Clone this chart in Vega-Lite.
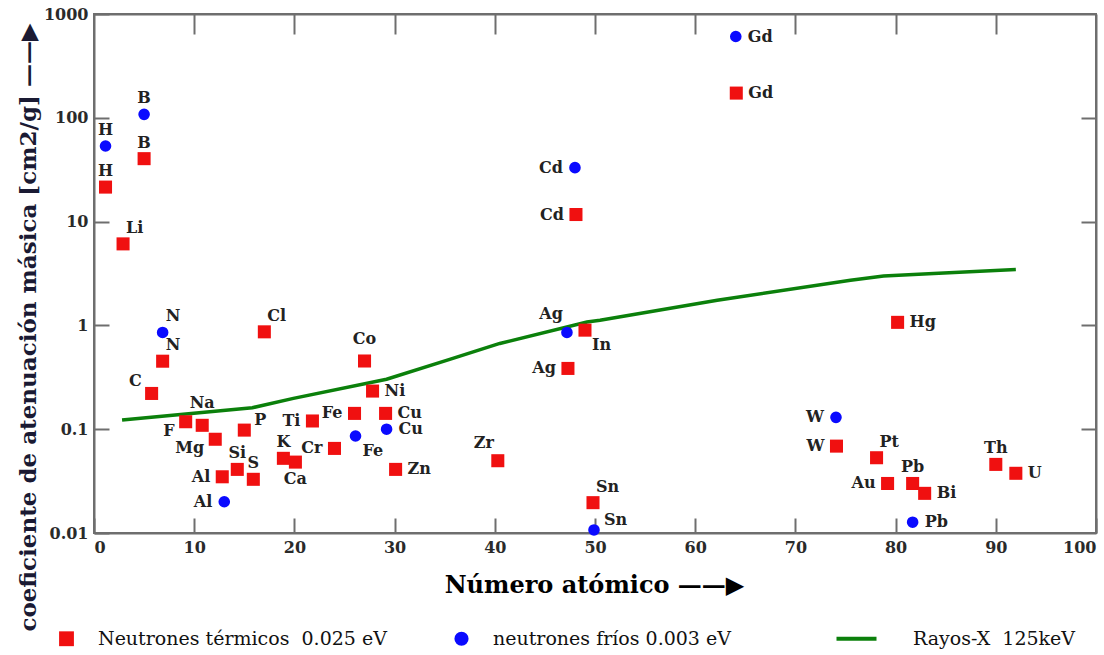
{
  "$schema": "https://vega.github.io/schema/vega-lite/v6.json",
  "width": 1002,
  "height": 519,
  "autosize": {"type": "none"},
  "padding": {"left": 94, "top": 14, "right": 8, "bottom": 122},
  "background": "white",
  "config": {
    "view": {"stroke": "#6e6e6e", "strokeWidth": 2},
    "axis": {"grid": false, "domainColor": "#6e6e6e", "domainWidth": 2, "tickColor": "#6e6e6e", "tickWidth": 2,
      "labelFont": "DejaVu Serif", "labelFontWeight": "bold", "labelFontSize": 16, "labelColor": "#2a2a2a"}
  },
  "datasets": {
    "pts": [
      {"Z": 1.15, "mu": 21.5, "el": "H", "serie": "termicos"},
      {"Z": 2.9, "mu": 6.1, "el": "Li", "serie": "termicos"},
      {"Z": 5, "mu": 40.4, "el": "B", "serie": "termicos"},
      {"Z": 5.75, "mu": 0.221, "el": "C", "serie": "termicos"},
      {"Z": 6.85, "mu": 0.452, "el": "N", "serie": "termicos"},
      {"Z": 9.15, "mu": 0.118, "el": "F", "serie": "termicos"},
      {"Z": 10.8, "mu": 0.109, "el": "Na", "serie": "termicos"},
      {"Z": 12.1, "mu": 0.08, "el": "Mg", "serie": "termicos"},
      {"Z": 12.8, "mu": 0.0348, "el": "Al", "serie": "termicos"},
      {"Z": 14.3, "mu": 0.041, "el": "Si", "serie": "termicos"},
      {"Z": 15, "mu": 0.098, "el": "P", "serie": "termicos"},
      {"Z": 15.9, "mu": 0.0329, "el": "S", "serie": "termicos"},
      {"Z": 17, "mu": 0.867, "el": "Cl", "serie": "termicos"},
      {"Z": 18.9, "mu": 0.0524, "el": "K", "serie": "termicos"},
      {"Z": 20.1, "mu": 0.0482, "el": "Ca", "serie": "termicos"},
      {"Z": 21.8, "mu": 0.12, "el": "Ti", "serie": "termicos"},
      {"Z": 24, "mu": 0.0653, "el": "Cr", "serie": "termicos"},
      {"Z": 26, "mu": 0.142, "el": "Fe", "serie": "termicos"},
      {"Z": 27, "mu": 0.454, "el": "Co", "serie": "termicos"},
      {"Z": 27.8, "mu": 0.233, "el": "Ni", "serie": "termicos"},
      {"Z": 29.1, "mu": 0.142, "el": "Cu", "serie": "termicos"},
      {"Z": 30.1, "mu": 0.041, "el": "Zn", "serie": "termicos"},
      {"Z": 40.3, "mu": 0.0497, "el": "Zr", "serie": "termicos"},
      {"Z": 47.3, "mu": 0.385, "el": "Ag", "serie": "termicos"},
      {"Z": 48.1, "mu": 11.7, "el": "Cd", "serie": "termicos"},
      {"Z": 49, "mu": 0.9, "el": "In", "serie": "termicos"},
      {"Z": 49.8, "mu": 0.0196, "el": "Sn", "serie": "termicos"},
      {"Z": 64.1, "mu": 173, "el": "Gd", "serie": "termicos"},
      {"Z": 74.1, "mu": 0.0687, "el": "W", "serie": "termicos"},
      {"Z": 78.1, "mu": 0.0531, "el": "Pt", "serie": "termicos"},
      {"Z": 79.2, "mu": 0.03, "el": "Au", "serie": "termicos"},
      {"Z": 80.2, "mu": 1.07, "el": "Hg", "serie": "termicos"},
      {"Z": 81.7, "mu": 0.03, "el": "Pb", "serie": "termicos"},
      {"Z": 82.9, "mu": 0.0241, "el": "Bi", "serie": "termicos"},
      {"Z": 90, "mu": 0.0458, "el": "Th", "serie": "termicos"},
      {"Z": 92, "mu": 0.0376, "el": "U", "serie": "termicos"},
      {"Z": 1.15, "mu": 53.5, "el": "H", "serie": "frios"},
      {"Z": 5, "mu": 108, "el": "B", "serie": "frios"},
      {"Z": 6.85, "mu": 0.855, "el": "N", "serie": "frios"},
      {"Z": 13, "mu": 0.02, "el": "Al", "serie": "frios"},
      {"Z": 26.1, "mu": 0.086, "el": "Fe", "serie": "frios"},
      {"Z": 29.2, "mu": 0.1, "el": "Cu", "serie": "frios"},
      {"Z": 47.2, "mu": 0.855, "el": "Ag", "serie": "frios"},
      {"Z": 48, "mu": 33.1, "el": "Cd", "serie": "frios"},
      {"Z": 49.9, "mu": 0.0107, "el": "Sn", "serie": "frios"},
      {"Z": 64.05, "mu": 607, "el": "Gd", "serie": "frios"},
      {"Z": 74.05, "mu": 0.13, "el": "W", "serie": "frios"},
      {"Z": 81.7, "mu": 0.0127, "el": "Pb", "serie": "frios"}
    ],
    "xray": [
      {"Z": 2.8, "mu": 0.1225, "serie": "rayos"},
      {"Z": 15.8, "mu": 0.161, "serie": "rayos"},
      {"Z": 19.9, "mu": 0.198, "serie": "rayos"},
      {"Z": 29.2, "mu": 0.303, "serie": "rayos"},
      {"Z": 35.5, "mu": 0.47, "serie": "rayos"},
      {"Z": 40.5, "mu": 0.67, "serie": "rayos"},
      {"Z": 49.2, "mu": 1.08, "serie": "rayos"},
      {"Z": 50.5, "mu": 1.12, "serie": "rayos"},
      {"Z": 62.2, "mu": 1.75, "serie": "rayos"},
      {"Z": 75.5, "mu": 2.72, "serie": "rayos"},
      {"Z": 78.8, "mu": 2.99, "serie": "rayos"},
      {"Z": 83.8, "mu": 3.16, "serie": "rayos"},
      {"Z": 92, "mu": 3.45, "serie": "rayos"}
    ]
  },
  "layer": [
    {
      "data": {"name": "xray"},
      "mark": {"type": "line", "strokeWidth": 3.5},
      "encoding": {
        "x": {"field": "Z", "type": "quantitative", "scale": {"domain": [0, 100], "nice": false},
          "axis": {"orient": "top", "labels": false, "tickSize": -20, "title": null, "values": [10, 20, 30, 40, 50, 60, 70, 80, 90]}},
        "y": {"field": "mu", "type": "quantitative", "scale": {"type": "log", "domain": [0.01, 1000], "nice": false},
          "axis": {"orient": "right", "labels": false, "tickSize": -15, "title": null, "values": [0.1, 1, 10, 100]}},
        "color": {"field": "serie", "type": "nominal",
          "scale": {"domain": ["termicos", "frios", "rayos"], "range": ["#f01010", "#0a0aff", "#0b800b"]},
          "legend": {"title": null, "orient": "none", "legendX": -37, "legendY": 615, "direction": "horizontal", "columns": 3, "gridAlign": "all", "columnPadding": 46, "padding": 0, "symbolSize": 1600, "labelOffset": 22, "labelFont": "DejaVu Serif", "labelFontSize": 19, "labelColor": "#111", "labelLimit": 400,
            "labelExpr": "datum.value=='termicos' ? 'Neutrones térmicos\u00a0 0.025 eV' : datum.value=='frios' ? 'neutrones fríos 0.003 eV' : 'Rayos-X\u00a0 125keV'",
            "encode": {"labels": {"update": {"dx": {"signal": "datum.value=='rayos' ? 25 : 0"}}}, "symbols": {"update": {"size": {"signal": "datum.value=='rayos' ? 1600 : datum.value=='termicos' ? 220 : 200"}, "fill": {"signal": "datum.value=='rayos' ? 'transparent' : scale('color', datum.value)"}, "stroke": {"signal": "scale('color', datum.value)"}, "strokeWidth": {"signal": "datum.value=='rayos' ? 4 : 0"}, "opacity": {"value": 1}}}}}}
      }
    },
    {
      "data": {"name": "pts"},
      "mark": {"type": "point", "filled": true, "opacity": 1},
      "encoding": {
        "x": {"field": "Z", "type": "quantitative", "scale": {"domain": [0, 100], "nice": false},
          "axis": {"orient": "bottom", "tickSize": -15, "labelPadding": 21, "labelFlush": true, "values": [0, 10, 20, 30, 40, 50, 60, 70, 80, 90, 100],
            "title": "Número atómico   ——▶", "titleFont": "DejaVu Serif", "titleFontWeight": "bold", "titleFontSize": 24, "titleColor": "#000", "titleX": 500, "titleY": 52, "titleAlign": "center", "titleBaseline": "middle"}},
        "y": {"field": "mu", "type": "quantitative", "scale": {"type": "log", "domain": [0.01, 1000], "nice": false},
          "axis": {"orient": "left", "tickSize": -15, "labelPadding": 21, "labelFlush": false, "values": [0.01, 0.1, 1, 10, 100, 1000], "format": "~g",
            "title": "coeficiente de atenuación másica [cm2/g]  ——▶", "titleFont": "DejaVu Serif", "titleFontWeight": "bold", "titleFontSize": 23, "titleColor": "#1a1a33", "titleX": -66, "titleY": 313, "titleAngle": 270, "titleAlign": "center", "titleBaseline": "middle"}},
        "color": {"field": "serie", "type": "nominal",
          "scale": {"domain": ["termicos", "frios", "rayos"], "range": ["#f01010", "#0a0aff", "#0b800b"]},
          "legend": {"title": null, "orient": "none", "legendX": -37, "legendY": 615, "direction": "horizontal", "columns": 3, "gridAlign": "all", "columnPadding": 46, "padding": 0, "symbolSize": 1600, "labelOffset": 22, "labelFont": "DejaVu Serif", "labelFontSize": 19, "labelColor": "#111", "labelLimit": 400,
            "labelExpr": "datum.value=='termicos' ? 'Neutrones térmicos\u00a0 0.025 eV' : datum.value=='frios' ? 'neutrones fríos 0.003 eV' : 'Rayos-X\u00a0 125keV'",
            "encode": {"labels": {"update": {"dx": {"signal": "datum.value=='rayos' ? 25 : 0"}}}, "symbols": {"update": {"size": {"signal": "datum.value=='rayos' ? 1600 : datum.value=='termicos' ? 220 : 200"}, "fill": {"signal": "datum.value=='rayos' ? 'transparent' : scale('color', datum.value)"}, "stroke": {"signal": "scale('color', datum.value)"}, "strokeWidth": {"signal": "datum.value=='rayos' ? 4 : 0"}, "opacity": {"value": 1}}}}}},
        "shape": {"field": "serie", "type": "nominal",
          "scale": {"domain": ["termicos", "frios", "rayos"], "range": ["square", "circle", "stroke"]},
          "legend": {"title": null, "orient": "none", "legendX": -37, "legendY": 615, "direction": "horizontal", "columns": 3, "gridAlign": "all", "columnPadding": 46, "padding": 0, "symbolSize": 1600, "labelOffset": 22, "labelFont": "DejaVu Serif", "labelFontSize": 19, "labelColor": "#111", "labelLimit": 400,
            "labelExpr": "datum.value=='termicos' ? 'Neutrones térmicos\u00a0 0.025 eV' : datum.value=='frios' ? 'neutrones fríos 0.003 eV' : 'Rayos-X\u00a0 125keV'",
            "encode": {"labels": {"update": {"dx": {"signal": "datum.value=='rayos' ? 25 : 0"}}}, "symbols": {"update": {"size": {"signal": "datum.value=='rayos' ? 1600 : datum.value=='termicos' ? 220 : 200"}, "fill": {"signal": "datum.value=='rayos' ? 'transparent' : scale('color', datum.value)"}, "stroke": {"signal": "scale('color', datum.value)"}, "strokeWidth": {"signal": "datum.value=='rayos' ? 4 : 0"}, "opacity": {"value": 1}}}}}},
        "size": {"field": "serie", "type": "nominal", "scale": {"domain": ["termicos", "frios"], "range": [170, 135]}, "legend": null}
      }
    },
    {
      "data": {"name": "pts"},
      "transform": [{"filter": "(datum.serie=='termicos' && indexof(['H','B','S','K','Pb','Th','Si'], datum.el) >= 0) || (datum.serie=='frios' && indexof(['H','B'], datum.el) >= 0)"}],
      "mark": {"type": "text", "font": "DejaVu Serif", "fontWeight": "bold", "fontSize": 16, "color": "#222", "baseline": "middle", "align": "center", "dx": 0, "dy": -16},
      "encoding": {"x": {"field": "Z", "type": "quantitative", "axis": null}, "y": {"field": "mu", "type": "quantitative", "axis": null}, "text": {"field": "el"}}
    },
    {
      "data": {"name": "pts"},
      "transform": [{"filter": "(datum.serie=='termicos' && indexof(['Li','N','Sn','Pt','Cl'], datum.el) >= 0) || (datum.serie=='frios' && indexof(['N'], datum.el) >= 0)"}],
      "mark": {"type": "text", "font": "DejaVu Serif", "fontWeight": "bold", "fontSize": 16, "color": "#222", "baseline": "middle", "align": "left", "dx": 3, "dy": -16},
      "encoding": {"x": {"field": "Z", "type": "quantitative", "axis": null}, "y": {"field": "mu", "type": "quantitative", "axis": null}, "text": {"field": "el"}}
    },
    {
      "data": {"name": "pts"},
      "transform": [{"filter": "datum.serie=='termicos' && indexof(['Na','Co'], datum.el) >= 0"}],
      "mark": {"type": "text", "font": "DejaVu Serif", "fontWeight": "bold", "fontSize": 16, "color": "#222", "baseline": "middle", "align": "center", "dx": 0, "dy": -22},
      "encoding": {"x": {"field": "Z", "type": "quantitative", "axis": null}, "y": {"field": "mu", "type": "quantitative", "axis": null}, "text": {"field": "el"}}
    },
    {
      "data": {"name": "pts"},
      "transform": [{"filter": "(datum.serie=='termicos' && indexof(['Zr'], datum.el) >= 0) || (datum.serie=='frios' && indexof(['Ag'], datum.el) >= 0)"}],
      "mark": {"type": "text", "font": "DejaVu Serif", "fontWeight": "bold", "fontSize": 16, "color": "#222", "baseline": "middle", "align": "right", "dx": -4, "dy": -18},
      "encoding": {"x": {"field": "Z", "type": "quantitative", "axis": null}, "y": {"field": "mu", "type": "quantitative", "axis": null}, "text": {"field": "el"}}
    },
    {
      "data": {"name": "pts"},
      "transform": [{"filter": "datum.serie=='termicos' && indexof(['C'], datum.el) >= 0"}],
      "mark": {"type": "text", "font": "DejaVu Serif", "fontWeight": "bold", "fontSize": 16, "color": "#222", "baseline": "middle", "align": "right", "dx": -10, "dy": -12},
      "encoding": {"x": {"field": "Z", "type": "quantitative", "axis": null}, "y": {"field": "mu", "type": "quantitative", "axis": null}, "text": {"field": "el"}}
    },
    {
      "data": {"name": "pts"},
      "transform": [{"filter": "(datum.serie=='termicos' && indexof(['Al','Ti','Cr','Fe','Ag','Cd','W','Au'], datum.el) >= 0) || (datum.serie=='frios' && indexof(['Al','Cd','W'], datum.el) >= 0)"}],
      "mark": {"type": "text", "font": "DejaVu Serif", "fontWeight": "bold", "fontSize": 16, "color": "#222", "baseline": "middle", "align": "right", "dx": -12, "dy": 0},
      "encoding": {"x": {"field": "Z", "type": "quantitative", "axis": null}, "y": {"field": "mu", "type": "quantitative", "axis": null}, "text": {"field": "el"}}
    },
    {
      "data": {"name": "pts"},
      "transform": [{"filter": "datum.serie=='termicos' && indexof(['Mg','F'], datum.el) >= 0"}],
      "mark": {"type": "text", "font": "DejaVu Serif", "fontWeight": "bold", "fontSize": 16, "color": "#222", "baseline": "middle", "align": "right", "dx": -11, "dy": 9},
      "encoding": {"x": {"field": "Z", "type": "quantitative", "axis": null}, "y": {"field": "mu", "type": "quantitative", "axis": null}, "text": {"field": "el"}}
    },
    {
      "data": {"name": "pts"},
      "transform": [{"filter": "(datum.serie=='termicos' && indexof(['Ni','Cu','Zn','Gd','Bi','Hg','U'], datum.el) >= 0) || (datum.serie=='frios' && indexof(['Cu','Gd','Pb'], datum.el) >= 0)"}],
      "mark": {"type": "text", "font": "DejaVu Serif", "fontWeight": "bold", "fontSize": 16, "color": "#222", "baseline": "middle", "align": "left", "dx": 12, "dy": 0},
      "encoding": {"x": {"field": "Z", "type": "quantitative", "axis": null}, "y": {"field": "mu", "type": "quantitative", "axis": null}, "text": {"field": "el"}}
    },
    {
      "data": {"name": "pts"},
      "transform": [{"filter": "(datum.serie=='termicos' && indexof(['P'], datum.el) >= 0) || (datum.serie=='frios' && indexof(['Sn'], datum.el) >= 0)"}],
      "mark": {"type": "text", "font": "DejaVu Serif", "fontWeight": "bold", "fontSize": 16, "color": "#222", "baseline": "middle", "align": "left", "dx": 10, "dy": -10},
      "encoding": {"x": {"field": "Z", "type": "quantitative", "axis": null}, "y": {"field": "mu", "type": "quantitative", "axis": null}, "text": {"field": "el"}}
    },
    {
      "data": {"name": "pts"},
      "transform": [{"filter": "datum.serie=='termicos' && indexof(['Ca'], datum.el) >= 0"}],
      "mark": {"type": "text", "font": "DejaVu Serif", "fontWeight": "bold", "fontSize": 16, "color": "#222", "baseline": "middle", "align": "center", "dx": 0, "dy": 17},
      "encoding": {"x": {"field": "Z", "type": "quantitative", "axis": null}, "y": {"field": "mu", "type": "quantitative", "axis": null}, "text": {"field": "el"}}
    },
    {
      "data": {"name": "pts"},
      "transform": [{"filter": "(datum.serie=='termicos' && indexof(['In'], datum.el) >= 0) || (datum.serie=='frios' && indexof(['Fe'], datum.el) >= 0)"}],
      "mark": {"type": "text", "font": "DejaVu Serif", "fontWeight": "bold", "fontSize": 16, "color": "#222", "baseline": "middle", "align": "left", "dx": 7, "dy": 15},
      "encoding": {"x": {"field": "Z", "type": "quantitative", "axis": null}, "y": {"field": "mu", "type": "quantitative", "axis": null}, "text": {"field": "el"}}
    }
  ],
  "resolve": {"axis": {"x": "independent", "y": "independent"}}
}
